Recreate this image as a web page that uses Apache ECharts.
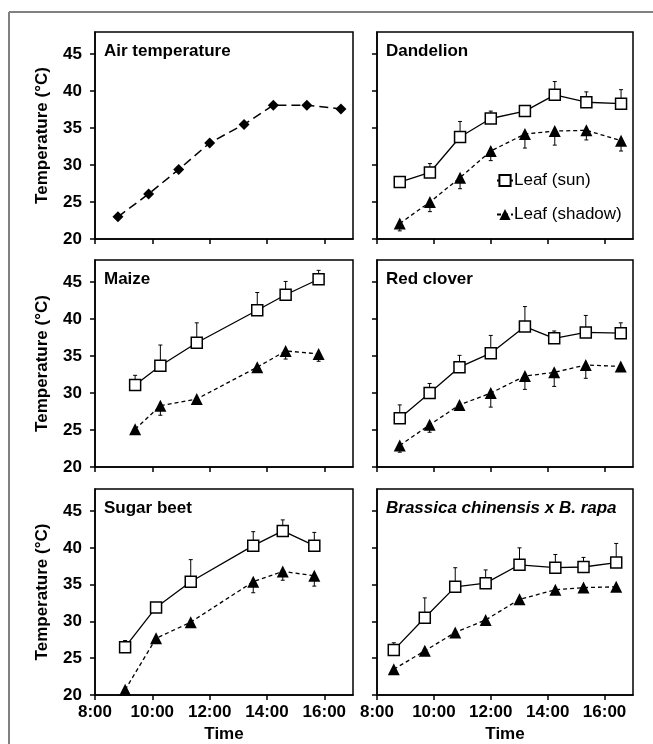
<!DOCTYPE html>
<html>
<head>
<meta charset="utf-8">
<script src="https://cdn.jsdelivr.net/npm/echarts@6/dist/echarts.min.js"></script>
<style>
  html, body { margin: 0; padding: 0; background: #fff; }
  #chart { width: 653px; height: 744px; }
</style>
</head>
<body>
<div id="chart"></div>
<script>
// tick positions (hours of day / °C)
const ticksX = [8, 10, 12, 14, 16];
const ticksY = [20, 25, 30, 35, 40, 45];

// Air temperature
const airTime = [8.8, 9.87, 10.92, 12.0, 13.2, 14.22, 15.39, 16.58];
const airTemp = [23.0, 26.1, 29.4, 33.0, 35.5, 38.1, 38.1, 37.6];

// Dandelion
const dandTime = [8.8, 9.86, 10.92, 12.0, 13.2, 14.25, 15.36, 16.58];
const dandSun = [27.7, 29.0, 33.8, 36.3, 37.3, 39.5, 38.5, 38.3];
const dandSunErr = [0.3, 1.2, 2.1, 1.0, 0.5, 1.8, 1.4, 1.9];
const dandShadow = [22.1, 25.0, 28.3, 31.9, 34.2, 34.6, 34.7, 33.3];
const dandShadowErr = [1.0, 1.3, 1.5, 1.3, 1.9, 1.9, 1.3, 1.4];

// Maize
const maizeTime = [9.4, 10.28, 11.55, 13.66, 14.65, 15.8];
const maizeSun = [31.1, 33.7, 36.8, 41.2, 43.3, 45.4];
const maizeSunErr = [1.3, 2.8, 2.7, 2.4, 1.8, 1.2];
const maizeShadow = [25.1, 28.3, 29.2, 33.5, 35.7, 35.3];
const maizeShadowErr = [0.4, 1.3, 0.3, 0.5, 1.1, 1.0];

// Red clover
const cloverTime = [8.8, 9.85, 10.9, 12.0, 13.2, 14.23, 15.34, 16.57];
const cloverSun = [26.6, 30.0, 33.5, 35.4, 39.0, 37.4, 38.2, 38.1];
const cloverSunErr = [1.8, 1.3, 1.6, 2.4, 2.7, 1.0, 2.3, 1.4];
const cloverShadow = [22.9, 25.7, 28.4, 30.0, 32.3, 32.8, 33.8, 33.6];
const cloverShadowErr = [0.9, 1.0, 0.3, 1.9, 1.8, 1.9, 1.8, 0.3];

// Sugar beet
const beetTime = [9.05, 10.13, 11.34, 13.52, 14.55, 15.65];
const beetSun = [26.5, 31.9, 35.4, 40.3, 42.3, 40.3];
const beetSunErr = [0.9, 0.3, 3.0, 1.9, 1.5, 1.8];
const beetShadow = [20.7, 27.7, 29.9, 35.4, 36.8, 36.2];
const beetShadowErr = [0.3, 0.3, 0.5, 1.5, 1.2, 1.4];

// Brassica chinensis x B. rapa
const brassTime = [8.59, 9.68, 10.75, 11.82, 13.01, 14.27, 15.26, 16.41];
const brassSun = [26.1, 30.5, 34.7, 35.2, 37.7, 37.3, 37.4, 38.0];
const brassSunErr = [1.0, 2.7, 2.6, 1.8, 2.3, 1.8, 1.3, 2.6];
const brassShadow = [23.5, 26.0, 28.5, 30.2, 33.0, 34.3, 34.6, 34.7];
const brassShadowErr = [0.2, 0.2, 0.3, 0.3, 0.3, 0.3, 0.3, 0.6];

const font = "'Liberation Sans', Arial, sans-serif";

const panels = [
  { title: 'Air temperature' },
  { title: 'Dandelion', time: dandTime, sun: dandSun, sunErr: dandSunErr, shadow: dandShadow, shadowErr: dandShadowErr },
  { title: 'Maize', time: maizeTime, sun: maizeSun, sunErr: maizeSunErr, shadow: maizeShadow, shadowErr: maizeShadowErr },
  { title: 'Red clover', time: cloverTime, sun: cloverSun, sunErr: cloverSunErr, shadow: cloverShadow, shadowErr: cloverShadowErr },
  { title: 'Sugar beet', time: beetTime, sun: beetSun, sunErr: beetSunErr, shadow: beetShadow, shadowErr: beetShadowErr },
  { title: 'Brassica chinensis x B. rapa', italic: true, time: brassTime, sun: brassSun, sunErr: brassSunErr, shadow: brassShadow, shadowErr: brassShadowErr }
];

const colLeft = [95, 377];
const colWidth = [258, 256];
const rowTop = [32, 260, 489];
const plotH = 207;

function pairs(t, v) {
  return t.map((x, k) => [x, v[k]]);
}

// error bars: dir 1 = up, -1 = down
function errSeries(idx, t, v, e, dir) {
  return {
    type: 'custom',
    xAxisIndex: idx,
    yAxisIndex: idx,
    z: 1,
    silent: true,
    data: t.map((x, k) => [x, v[k], e[k]]),
    encode: { x: 0, y: 1 },
    renderItem: function (params, api) {
      const p0 = api.coord([api.value(0), api.value(1)]);
      const p1 = api.coord([api.value(0), api.value(1) + dir * api.value(2)]);
      return {
        type: 'group',
        children: [
          { type: 'line', shape: { x1: p0[0], y1: p0[1], x2: p1[0], y2: p1[1] }, style: { stroke: '#000', lineWidth: 1 } },
          { type: 'line', shape: { x1: p1[0] - 2, y1: p1[1], x2: p1[0] + 2, y2: p1[1] }, style: { stroke: '#000', lineWidth: 1 } }
        ]
      };
    }
  };
}

const grids = [], xAxes = [], yAxes = [], titles = [], series = [];

panels.forEach((p, i) => {
  const col = i % 2, row = Math.floor(i / 2);
  const left = colLeft[col], top = rowTop[row];
  grids.push({
    left: left, top: top, width: colWidth[col], height: plotH,
    show: true, borderColor: '#000', borderWidth: 1.5, backgroundColor: '#fff'
  });
  xAxes.push({
    gridIndex: i, type: 'value', min: 8, max: 17,
    axisLine: { show: true, onZero: false, lineStyle: { color: '#000', width: 1.5 } },
    axisTick: { show: true, customValues: ticksX, length: 5, lineStyle: { color: '#000', width: 1.5 } },
    axisLabel: {
      show: row === 2, customValues: ticksX, formatter: v => v + ':00',
      fontSize: 17, fontWeight: 'bold', color: '#000', fontFamily: font, margin: 9
    },
    splitLine: { show: false },
    name: row === 2 ? 'Time' : '',
    nameLocation: 'middle', nameGap: 31,
    nameTextStyle: { fontSize: 17, fontWeight: 'bold', color: '#000', fontFamily: font }
  });
  yAxes.push({
    gridIndex: i, type: 'value', min: 20, max: 48,
    axisLine: { show: true, lineStyle: { color: '#000', width: 1.5 } },
    axisTick: { show: true, customValues: ticksY, length: 5, lineStyle: { color: '#000', width: 1.5 } },
    axisLabel: {
      show: col === 0, customValues: ticksY,
      fontSize: 17, fontWeight: 'bold', color: '#000', fontFamily: font, margin: 13
    },
    splitLine: { show: false },
    name: col === 0 ? 'Temperature (°C)' : '',
    nameLocation: 'middle', nameGap: 44,
    nameTextStyle: { fontSize: 17, fontWeight: 'bold', color: '#000', fontFamily: font }
  });
  titles.push({
    text: p.title, left: left + 9, top: top + 11, padding: 0,
    textStyle: { fontSize: 17, fontWeight: 'bold', fontStyle: p.italic ? 'italic' : 'normal', color: '#000', fontFamily: font }
  });

  if (i === 0) {
    series.push({
      name: 'Air temperature', type: 'line', xAxisIndex: 0, yAxisIndex: 0,
      data: pairs(airTime, airTemp),
      symbol: 'diamond', symbolSize: 11,
      itemStyle: { color: '#000' },
      lineStyle: { color: '#000', width: 1.5, type: [9, 5] }
    });
    return;
  }
  series.push(errSeries(i, p.time, p.sun, p.sunErr, 1));
  series.push(errSeries(i, p.time, p.shadow, p.shadowErr, -1));
  series.push({
    name: 'Leaf (sun)', type: 'line', xAxisIndex: i, yAxisIndex: i,
    data: pairs(p.time, p.sun),
    symbol: 'rect', symbolSize: 11,
    itemStyle: { color: '#fff', borderColor: '#000', borderWidth: 1.5 },
    lineStyle: { color: '#000', width: 1.3 }
  });
  series.push({
    name: 'Leaf (shadow)', type: 'line', xAxisIndex: i, yAxisIndex: i,
    data: pairs(p.time, p.shadow),
    symbol: 'triangle', symbolSize: 12,
    itemStyle: { color: '#000' },
    lineStyle: { color: '#000', width: 1.3, type: [4, 3] }
  });
});

const chart = echarts.init(document.getElementById('chart'), null, { renderer: 'canvas' });
chart.setOption({
  animation: false,
  backgroundColor: '#fff',
  title: titles,
  grid: grids,
  xAxis: xAxes,
  yAxis: yAxes,
  legend: {
    data: ['Leaf (sun)', 'Leaf (shadow)'],
    orient: 'vertical', left: 496, top: 172, padding: 0,
    itemWidth: 16, itemHeight: 14, itemGap: 17, selectedMode: false,
    textStyle: { fontSize: 17, color: '#000', fontFamily: font, padding: [0, 0, 0, -4] }
  },
  graphic: [
    { type: 'line', shape: { x1: 9, y1: 12, x2: 653, y2: 12 }, style: { stroke: '#808080', lineWidth: 2 } },
    { type: 'line', shape: { x1: 9, y1: 12, x2: 9, y2: 744 }, style: { stroke: '#808080', lineWidth: 2 } }
  ],
  series: series
});
</script>
</body>
</html>
